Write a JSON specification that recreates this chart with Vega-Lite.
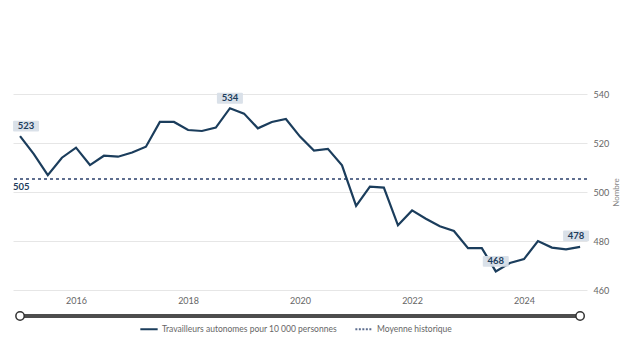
{
  "$schema": "https://vega.github.io/schema/vega-lite/v6.json",
  "background": "white",
  "padding": {"left": 12, "top": 90, "right": 5, "bottom": 5},
  "config": {
    "view": {"stroke": null},
    "font": "Lato",
    "concat": {"spacing": 3}
  },
  "data": {
    "values": [
      {"date": "2015-01-01", "value": 522.8},
      {"date": "2015-04-01", "value": 515.5},
      {"date": "2015-07-01", "value": 506.9},
      {"date": "2015-10-01", "value": 514.0},
      {"date": "2016-01-01", "value": 518.1},
      {"date": "2016-04-01", "value": 511.0},
      {"date": "2016-07-01", "value": 514.8},
      {"date": "2016-10-01", "value": 514.4},
      {"date": "2017-01-01", "value": 516.1},
      {"date": "2017-04-01", "value": 518.5},
      {"date": "2017-07-01", "value": 528.6},
      {"date": "2017-10-01", "value": 528.6},
      {"date": "2018-01-01", "value": 525.3},
      {"date": "2018-04-01", "value": 524.9},
      {"date": "2018-07-01", "value": 526.3},
      {"date": "2018-10-01", "value": 534.2},
      {"date": "2019-01-01", "value": 532.0},
      {"date": "2019-04-01", "value": 526.0},
      {"date": "2019-07-01", "value": 528.6},
      {"date": "2019-10-01", "value": 529.8},
      {"date": "2020-01-01", "value": 522.6},
      {"date": "2020-04-01", "value": 516.9},
      {"date": "2020-07-01", "value": 517.6},
      {"date": "2020-10-01", "value": 510.9},
      {"date": "2021-01-01", "value": 494.3},
      {"date": "2021-04-01", "value": 502.2},
      {"date": "2021-07-01", "value": 501.8},
      {"date": "2021-10-01", "value": 486.4},
      {"date": "2022-01-01", "value": 492.5},
      {"date": "2022-04-01", "value": 489.1},
      {"date": "2022-07-01", "value": 486.0},
      {"date": "2022-10-01", "value": 484.1},
      {"date": "2023-01-01", "value": 477.1},
      {"date": "2023-04-01", "value": 477.1},
      {"date": "2023-07-01", "value": 467.6},
      {"date": "2023-10-01", "value": 471.0},
      {"date": "2024-01-01", "value": 472.6},
      {"date": "2024-04-01", "value": 480.0},
      {"date": "2024-07-01", "value": 477.3},
      {"date": "2024-10-01", "value": 476.6},
      {"date": "2025-01-01", "value": 477.6}
    ],
    "format": {"parse": {"date": "date"}}
  },
  "vconcat": [
    {
      "width": 574,
      "height": 196,
      "layer": [
        {
          "transform": [{"aggregate": [{"op": "mean", "field": "value", "as": "avg"}]}],
          "mark": {"type": "rule", "strokeDash": [3, 3], "strokeWidth": 2},
          "encoding": {
            "y": {"field": "avg", "type": "quantitative"},
            "color": {"datum": "Moyenne historique", "type": "nominal"}
          }
        },
        {
          "transform": [{"aggregate": [{"op": "mean", "field": "value", "as": "avg"}]}],
          "mark": {"type": "text", "align": "left", "baseline": "top", "dy": 3, "fontWeight": "bold", "fontSize": 9.5, "color": "#1d3d5c"},
          "encoding": {
            "x": {"datum": {"year": 2014, "month": 11, "date": 16}, "type": "temporal"},
            "y": {"field": "avg", "type": "quantitative"},
            "text": {"field": "avg", "type": "quantitative", "format": ".0f"}
          }
        },
        {
          "mark": {"type": "line", "strokeWidth": 2.2},
          "encoding": {
            "x": {
              "field": "date",
              "type": "temporal",
              "scale": {"domain": [{"year": 2014, "month": 11, "date": 16}, {"year": 2025, "month": 2, "date": 15}]},
              "axis": {
                "title": null,
                "format": "%Y",
                "tickCount": {"interval": "year", "step": 2},
                "grid": false,
                "domain": false,
                "ticks": false,
                "labelPadding": 6,
                "labelColor": "#666666",
                "labelFontSize": 9
              }
            },
            "y": {
              "field": "value",
              "type": "quantitative",
              "scale": {"domain": [460, 540], "nice": false, "zero": false},
              "axis": {
                "orient": "right",
                "values": [460, 480, 500, 520, 540],
                "grid": true,
                "gridColor": "#e6e6e6",
                "domain": false,
                "ticks": false,
                "labelColor": "#666666",
                "labelFontSize": 9,
                "labelPadding": 6,
                "title": "Nombre",
                "titleAngle": 270,
                "titleFontSize": 8,
                "titleFontWeight": "normal",
                "titleColor": "#888888",
                "titlePadding": 12
              }
            },
            "color": {
              "datum": "Travailleurs autonomes pour 10 000 personnes",
              "type": "nominal",
              "scale": {
                "domain": ["Travailleurs autonomes pour 10 000 personnes", "Moyenne historique"],
                "range": ["#1b3d5c", "#5e6e8f"]
              },
              "legend": {
                "orient": "none",
                "legendX": 126,
                "legendY": 225,
                "direction": "horizontal",
                "title": null,
                "symbolType": "stroke",
                "symbolStrokeWidth": 2,
                "symbolSize": 300,
                "labelFontSize": 8.5,
                "labelLimit": 400,
                "labelColor": "#666666",
                "labelOffset": 3,
                "columnPadding": 14,
                "encode": {
                  "symbols": {
                    "update": {
                      "strokeDash": {"signal": "datum.value === 'Moyenne historique' ? [2, 1.5] : [1, 0]"}
                    }
                  }
                }
              }
            }
          }
        },
        {
          "transform": [
            {"joinaggregate": [{"op": "max", "field": "value", "as": "vmax"}, {"op": "min", "field": "value", "as": "vmin"}]},
            {"filter": "datum.value === datum.vmax || datum.value === datum.vmin"}
          ],
          "encoding": {
            "x": {"field": "date", "type": "temporal"},
            "y": {"field": "value", "type": "quantitative"}
          },
          "layer": [
            {
              "mark": {"type": "point", "shape": "M-0.92,-0.42H0.92Q1,-0.42 1,-0.34V0.34Q1,0.42 0.92,0.42H-0.92Q-1,0.42 -1,0.34V-0.34Q-1,-0.42 -0.92,-0.42Z", "size": 676, "filled": true, "fill": "#d8dfe8", "opacity": 0.95, "strokeWidth": 0, "yOffset": -10}
            },
            {
              "mark": {"type": "text", "fontWeight": "bold", "fontSize": 9.5, "color": "#1d3d5c", "yOffset": -10, "baseline": "middle"},
              "encoding": {"text": {"field": "value", "type": "quantitative", "format": ".0f"}}
            }
          ]
        },
        {
          "transform": [
            {"joinaggregate": [{"op": "min", "field": "date", "as": "dmin"}]},
            {"filter": "+datum.date === +datum.dmin"}
          ],
          "encoding": {
            "x": {"field": "date", "type": "temporal"},
            "y": {"field": "value", "type": "quantitative"}
          },
          "layer": [
            {
              "mark": {"type": "point", "shape": "M-0.92,-0.42H0.92Q1,-0.42 1,-0.34V0.34Q1,0.42 0.92,0.42H-0.92Q-1,0.42 -1,0.34V-0.34Q-1,-0.42 -0.92,-0.42Z", "size": 676, "filled": true, "fill": "#d8dfe8", "opacity": 0.95, "strokeWidth": 0, "yOffset": -10, "xOffset": 6}
            },
            {
              "mark": {"type": "text", "fontWeight": "bold", "fontSize": 9.5, "color": "#1d3d5c", "yOffset": -10, "xOffset": 6, "baseline": "middle"},
              "encoding": {"text": {"field": "value", "type": "quantitative", "format": ".0f"}}
            }
          ]
        },
        {
          "transform": [
            {"joinaggregate": [{"op": "max", "field": "date", "as": "dmax"}]},
            {"filter": "+datum.date === +datum.dmax"}
          ],
          "encoding": {
            "x": {"field": "date", "type": "temporal"},
            "y": {"field": "value", "type": "quantitative"}
          },
          "layer": [
            {
              "mark": {"type": "point", "shape": "M-0.92,-0.42H0.92Q1,-0.42 1,-0.34V0.34Q1,0.42 0.92,0.42H-0.92Q-1,0.42 -1,0.34V-0.34Q-1,-0.42 -0.92,-0.42Z", "size": 676, "filled": true, "fill": "#d8dfe8", "opacity": 0.95, "strokeWidth": 0, "yOffset": -11, "xOffset": -4}
            },
            {
              "mark": {"type": "text", "fontWeight": "bold", "fontSize": 9.5, "color": "#1d3d5c", "yOffset": -11, "xOffset": -4, "baseline": "middle"},
              "encoding": {"text": {"field": "value", "type": "quantitative", "format": ".0f"}}
            }
          ]
        }
      ]
    },
    {
      "width": 574,
      "height": 10,
      "transform": [{"aggregate": [{"op": "min", "field": "date", "as": "d0"}, {"op": "max", "field": "date", "as": "d1"}]}],
      "layer": [
        {
          "mark": {"type": "rule", "strokeWidth": 4, "color": "#4d4d4d"},
          "encoding": {
            "x": {"field": "d0", "type": "temporal", "scale": {"domain": [{"year": 2014, "month": 11, "date": 16}, {"year": 2025, "month": 2, "date": 15}]}, "axis": null},
            "x2": {"field": "d1"}
          }
        },
        {
          "transform": [{"fold": ["d0", "d1"], "as": ["end", "d"]}],
          "mark": {"type": "point", "shape": "circle", "size": 70, "filled": true, "fill": "white", "stroke": "#333333", "strokeWidth": 1.5, "opacity": 1},
          "encoding": {
            "x": {"field": "d", "type": "temporal", "axis": null}
          }
        }
      ]
    }
  ]
}
